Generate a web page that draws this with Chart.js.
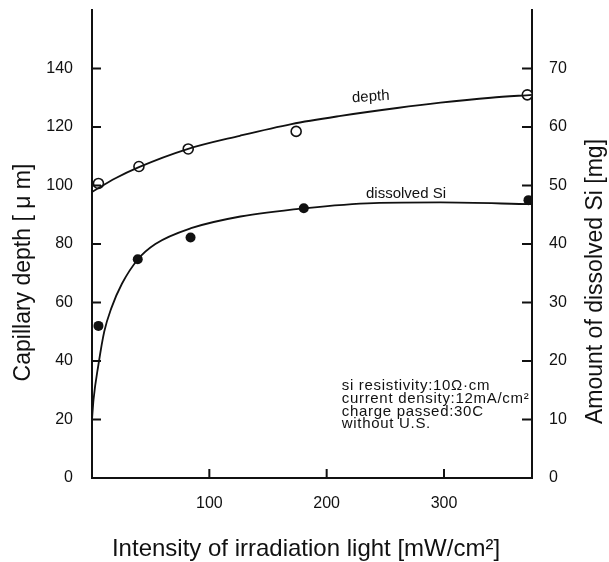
<!DOCTYPE html>
<html>
<head>
<meta charset="utf-8">
<script src="https://cdn.jsdelivr.net/npm/chart.js@4.4.0/dist/chart.umd.min.js"></script>
<style>
  body { margin: 0; background: #fff; }
  #wrap { width: 609px; height: 562px; }
</style>
</head>
<body>
<div id="wrap"><canvas id="chart" width="609" height="562"></canvas></div>
<script>
// measured points
var depthX = [5.5, 40, 82, 174, 371];
var depthY = [100.7, 106.5, 112.5, 118.5, 131];
var siX = [5.5, 39, 84, 180.5, 372];
var siY = [26, 37.4, 41.1, 46.1, 47.5];

// fitted curves
var depthFitX = [0, 20, 40, 80, 126, 170, 212, 260, 297, 340, 375];
var depthFitY = [97.8, 102.5, 106.3, 112.3, 117, 121, 123.8, 126.5, 128.3, 130, 131];
var siFitX = [0, 1.3, 5.5, 10.4, 16.4, 25.5, 39.2, 54, 84.4, 126.5, 180.5, 240, 297, 375];
var siFitY = [10, 13.4, 19.4, 25, 29, 33.2, 37.4, 40, 42.7, 44.7, 46.1, 47, 47.1, 46.8];

var xTicks = [100, 200, 300];
var yTicks = [0, 20, 40, 60, 80, 100, 120, 140];
var y2Ticks = [0, 10, 20, 30, 40, 50, 60, 70];

var notes = ["si resistivity:10Ω·cm", "current density:12mA/cm²", "charge passed:30C", "without U.S."];

var FONT = "'Liberation Sans', Arial, Helvetica, sans-serif";
var INK = "#111";

function pts(xs, ys) {
  return xs.map(function (x, i) { return { x: x, y: ys[i] }; });
}

function setTicks(list) {
  return function (scale) {
    scale.ticks = list.map(function (v) { return { value: v }; });
  };
}

function fixSize(w, h) {
  return function (scale) {
    if (w != null) scale.width = w;
    if (h != null) scale.height = h;
    scale.paddingTop = 0;
    scale.paddingBottom = 0;
    scale.paddingLeft = 0;
    scale.paddingRight = 0;
  };
}

// inward tick marks, titles and notes
var decor = {
  id: "decor",
  afterDraw: function (chart) {
    var ctx = chart.ctx;
    var a = chart.chartArea;
    var sx = chart.scales.x, sy = chart.scales.y, sy2 = chart.scales.y2;
    ctx.save();
    ctx.strokeStyle = INK;
    ctx.lineWidth = 2;
    ctx.beginPath();
    sy.ticks.forEach(function (t) {
      var p = sy.getPixelForValue(t.value);
      ctx.moveTo(a.left, p); ctx.lineTo(a.left + 9, p);
    });
    sy2.ticks.forEach(function (t) {
      var p = sy2.getPixelForValue(t.value);
      ctx.moveTo(a.right, p); ctx.lineTo(a.right - 10, p);
    });
    sx.ticks.forEach(function (t) {
      var p = sx.getPixelForValue(t.value);
      ctx.moveTo(p, a.bottom); ctx.lineTo(p, a.bottom - 9);
    });
    ctx.stroke();

    ctx.fillStyle = INK;
    ctx.font = "24px " + FONT;
    ctx.textAlign = "center";
    ctx.textBaseline = "alphabetic";
    ctx.fillText("Intensity of irradiation light [mW/cm²]", 306, 556);

    ctx.font = "23px " + FONT;
    ctx.save();
    ctx.translate(30, 272.5);
    ctx.rotate(-Math.PI / 2);
    ctx.fillText("Capillary depth [ μ m]", 0, 0);
    ctx.restore();

    ctx.save();
    ctx.translate(602, 281.5);
    ctx.rotate(-Math.PI / 2);
    ctx.fillText("Amount of dissolved Si [mg]", 0, 0);
    ctx.restore();

    ctx.font = "15px " + FONT;
    ctx.save();
    ctx.translate(371, 101);
    ctx.rotate(-0.06);
    ctx.fillText("depth", 0, 0);
    ctx.restore();
    ctx.textAlign = "left";
    ctx.fillText("dissolved Si", 366, 197.5);

    ctx.font = "15px " + FONT;
    ctx.letterSpacing = "0.7px";
    var base = [390, 403, 415.7, 427.7];
    notes.forEach(function (s, i) { ctx.fillText(s, 341.7, base[i]); });
    ctx.restore();
  }
};

var tickFont = { family: FONT, size: 16 };

new Chart(document.getElementById("chart"), {
  type: "scatter",
  data: {
    datasets: [
      {
        label: "depth fit",
        data: pts(depthFitX, depthFitY),
        yAxisID: "y",
        showLine: true,
        pointRadius: 0,
        borderColor: INK,
        borderWidth: 1.8,
        cubicInterpolationMode: "monotone",
      },
      {
        label: "dissolved Si fit",
        data: pts(siFitX, siFitY),
        yAxisID: "y2",
        showLine: true,
        pointRadius: 0,
        borderColor: INK,
        borderWidth: 1.8,
        cubicInterpolationMode: "monotone",
      },
      {
        label: "depth",
        data: pts(depthX, depthY),
        yAxisID: "y",
        pointStyle: "circle",
        pointRadius: 5,
        pointBorderWidth: 1.6,
        pointBorderColor: INK,
        pointBackgroundColor: "#fff",
      },
      {
        label: "dissolved Si",
        data: pts(siX, siY),
        yAxisID: "y2",
        pointStyle: "circle",
        pointRadius: 5,
        pointBorderWidth: 0,
        pointBackgroundColor: INK,
      },
    ],
  },
  options: {
    responsive: false,
    animation: false,
    layout: { padding: { top: 10, left: 0, right: 0, bottom: 0 } },
    plugins: {
      legend: { display: false },
      tooltip: { enabled: false },
    },
    scales: {
      x: {
        type: "linear",
        position: "bottom",
        min: 0,
        max: 375,
        afterBuildTicks: setTicks(xTicks),
        afterFit: fixSize(null, 84),
        grid: { display: false, drawTicks: false },
        border: { display: true, color: INK, width: 2 },
        ticks: { color: INK, padding: 16, font: tickFont },
      },
      y: {
        position: "left",
        min: 0,
        max: 160,
        afterBuildTicks: setTicks(yTicks),
        afterFit: fixSize(92, null),
        grid: { display: false, drawTicks: false },
        border: { display: true, color: INK, width: 2 },
        ticks: { color: INK, padding: 19, font: tickFont },
      },
      y2: {
        position: "right",
        min: 0,
        max: 80,
        afterBuildTicks: setTicks(y2Ticks),
        afterFit: fixSize(77, null),
        grid: { display: false, drawTicks: false },
        border: { display: true, color: INK, width: 2 },
        ticks: { color: INK, padding: 17, font: tickFont },
      },
    },
  },
  plugins: [decor],
});
</script>
</body>
</html>
